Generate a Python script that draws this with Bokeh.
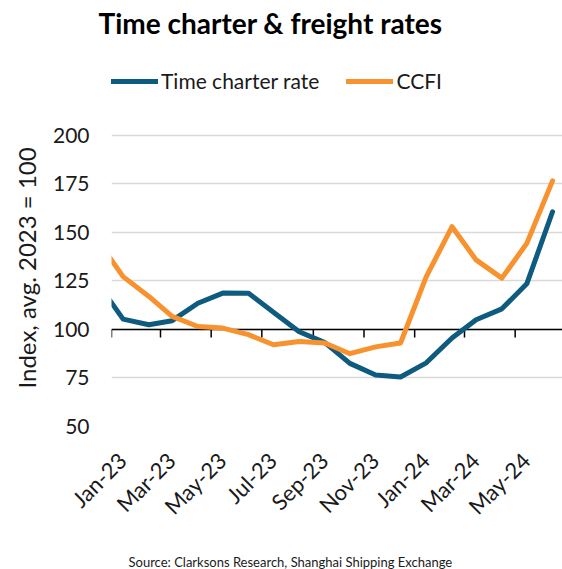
import pandas as pd
from math import pi
from bokeh.plotting import figure
from bokeh.models import (Range1d, FixedTicker, DatetimeTickFormatter, Span, Title,
                          Legend, LegendItem, ColumnDataSource)
from bokeh.embed import file_html
from bokeh.resources import INLINE

# ---- data ----
months = ["2022-12", "2023-01", "2023-02", "2023-03", "2023-04", "2023-05", "2023-06",
          "2023-07", "2023-08", "2023-09", "2023-10", "2023-11", "2023-12",
          "2024-01", "2024-02", "2024-03", "2024-04", "2024-05", "2024-06"]
time_charter = [124.0, 105.3, 102.4, 104.5, 113.5, 118.7, 118.6, 108.9, 98.8, 93.2,
                82.5, 76.5, 75.5, 82.8, 95.6, 105.0, 110.6, 123.5, 160.6]
ccfi = [146.0, 127.2, 117.0, 106.7, 101.5, 100.7, 97.3, 92.1, 93.8, 93.0,
        87.5, 91.0, 93.0, 127.2, 152.9, 135.8, 126.4, 144.3, 176.5]
tick_labels = ["Jan-23", "Mar-23", "May-23", "Jul-23", "Sep-23", "Nov-23",
               "Jan-24", "Mar-24", "May-24"]
y_ticks = [50, 75, 100, 125, 150, 175, 200]

FONT = "Lato"
TXT = "#1a1a1a"
BLUE = "#0F5B7F"
ORANGE = "#F7922E"

x_dates = pd.to_datetime(months) + pd.Timedelta(days=14)
tick_dates = pd.to_datetime(tick_labels, format="%b-%y")
tick_ms = [t.timestamp() * 1000 for t in tick_dates]
label_shift = pd.Timedelta(days=13)  # rotated labels sit a little right of their tick
label_ms = [(t + label_shift).timestamp() * 1000 for t in tick_dates]

src = ColumnDataSource(dict(x=x_dates, tc=time_charter, ccfi=ccfi))

x_start = pd.Timestamp("2023-01-01").timestamp() * 1000
x_end = pd.Timestamp("2024-06-27").timestamp() * 1000
# frame reaches up to the legend row; the value grid stops at 200
FRAME_TOP, FRAME_BOTTOM = 45, 427
y_top = 200 + (135 - FRAME_TOP) * 150 / 292

p = figure(width=562, height=569, x_axis_type="datetime",
           x_range=Range1d(x_start, x_end), y_range=Range1d(50, y_top),
           output_backend="svg", toolbar_location=None, title=None,
           min_border_left=110, min_border_right=0, min_border_top=FRAME_TOP,
           min_border_bottom=569 - FRAME_BOTTOM)
p.outline_line_color = None
p.background_fill_color = "white"
p.border_fill_color = "white"

# grid
p.xgrid.grid_line_color = None
p.ygrid.ticker = FixedTicker(ticks=y_ticks)
p.ygrid.grid_line_color = "#d9d9d9"
p.ygrid.grid_line_width = 1.5

# y axis
p.yaxis.ticker = FixedTicker(ticks=y_ticks)
p.yaxis.axis_line_color = None
p.yaxis.major_tick_line_color = None
p.yaxis.minor_tick_line_color = None
p.yaxis.major_tick_out = 0
p.yaxis.major_label_text_font = FONT
p.yaxis.major_label_text_font_size = "21px"
p.yaxis.major_label_text_color = TXT
p.yaxis.major_label_standoff = 22

# x axis (labels only; axis line drawn at y=100)
p.xaxis.ticker = FixedTicker(ticks=label_ms)
fmt = "%b-%y"
p.xaxis.formatter = DatetimeTickFormatter(days=fmt, months=fmt, years=fmt)
p.xaxis.axis_line_color = None
p.xaxis.major_tick_line_color = None
p.xaxis.minor_tick_line_color = None
p.xaxis.major_tick_out = 0
p.xaxis.major_label_orientation = pi / 4
p.xaxis.major_label_text_font = FONT
p.xaxis.major_label_text_font_size = "22px"
p.xaxis.major_label_text_color = TXT
p.xaxis.major_label_standoff = 30

# horizontal axis line at 100 with downward tick marks
p.add_layout(Span(location=100, dimension="width", line_color="black",
                  line_width=1.5, level="underlay"))
tick_len = 8 * ((y_top - 50) / (FRAME_BOTTOM - FRAME_TOP))
p.segment(x0=tick_ms, y0=[100] * len(tick_ms), x1=tick_ms,
          y1=[100 - tick_len] * len(tick_ms), line_color="black", line_width=1.5)

r1 = p.line("x", "tc", source=src, line_color=BLUE, line_width=5,
            line_join="round", line_cap="round")
r2 = p.line("x", "ccfi", source=src, line_color=ORANGE, line_width=5,
            line_join="round", line_cap="round")

# ---- legend (inside the top strip of the frame) ----
legend = Legend(items=[LegendItem(label="Time charter rate", renderers=[r1]),
                       LegendItem(label="CCFI", renderers=[r2])],
                orientation="horizontal", location=(0, 333),
                glyph_width=47, glyph_height=24, label_height=24,
                label_standoff=3, spacing=27, padding=0, margin=0,
                border_line_color=None, background_fill_alpha=0,
                label_text_font=FONT, label_text_font_size="21px",
                label_text_color=TXT, label_text_baseline="middle")
p.add_layout(legend)

# ---- title ----
p.add_layout(Title(text="Time charter & freight rates", align="left", offset=-13,
                   vertical_align="top", standoff=7, text_font=FONT,
                   text_font_style="bold", text_font_size="28px",
                   text_color="black"), "above")

# ---- left: y-axis title ----
p.add_layout(Title(text="Index, avg. 2023 = 100", align="left", offset=38,
                   vertical_align="bottom", standoff=18, text_font=FONT,
                   text_font_style="normal", text_font_size="24px",
                   text_color=TXT), "left")

# ---- bottom: blank spacer title, then source note ----
p.add_layout(Title(text=" ", standoff=5, text_font=FONT, text_font_size="10px"),
             "below")
p.add_layout(Title(text="Source: Clarksons Research, Shanghai Shipping Exchange",
                   align="left", offset=17, vertical_align="bottom", standoff=0,
                   text_font=FONT, text_font_style="normal", text_font_size="13px",
                   text_color=TXT), "below")

open("out.html", "w").write(file_html(p, INLINE))
